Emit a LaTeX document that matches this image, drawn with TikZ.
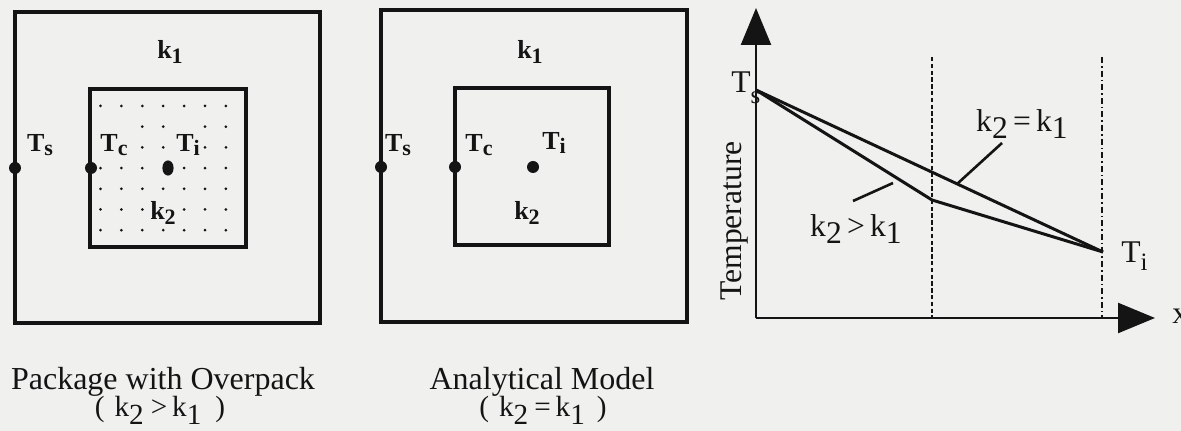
\documentclass[tikz,border=0pt]{standalone}
\usepackage{fontspec}
\setmainfont{Liberation Serif}
\usetikzlibrary{arrows.meta,shapes.geometric}
\definecolor{bgcol}{RGB}{240,240,238}
\definecolor{ink}{RGB}{20,20,20}
\newcommand{\lowsub}[1]{\raisebox{-0.42ex}{#1}}
\newcommand{\capsub}[1]{\raisebox{-0.55ex}{#1}}
\newcommand{\bsub}[1]{\raisebox{-0.4ex}{\fontsize{11pt}{11pt}\selectfont #1}}
\tikzset{
  box/.style={draw=ink, line width=1.6pt},
  bigdot/.style={circle, fill=ink, inner sep=0pt, minimum size=6pt},
  ovaldot/.style={ellipse, fill=ink, inner sep=0pt, minimum width=5.6pt, minimum height=7.6pt},
  blabel/.style={font=\fontsize{13pt}{13pt}\selectfont\bfseries, text=ink, inner sep=0pt},
  tlabel/.style={font=\fontsize{15.8pt}{17pt}\selectfont, text=ink, inner sep=0pt},
  caplabel/.style={font=\fontsize{16pt}{17pt}\selectfont, text=ink, inner sep=0pt},
  clabel/.style={font=\fontsize{14.6pt}{15pt}\selectfont, text=ink, inner sep=0pt},
  axis/.style={draw=ink, line width=1.25pt},
  curve/.style={draw=ink, line width=1.5pt},
  leader/.style={draw=ink, line width=1.3pt},
  dashA/.style={draw=ink, line width=1.1pt, dash pattern=on 2.2pt off 1.2pt},
  dashB/.style={draw=ink, line width=1.1pt, dash pattern=on 3pt off 1.5pt on 0.8pt off 1.5pt},
}
\begin{document}
\begin{tikzpicture}[x=0.5pt,y=-0.5pt]
\fill[bgcol] (0,0) rectangle (1181,431);
\useasboundingbox (0,0) rectangle (1181,431);

% ---------- Panel 1 ----------
\draw[box] (15,12) rectangle (320,323);
\draw[box] (90,89) rectangle (246,247);
\foreach \j in {0,...,6}{
  \foreach \i in {0,...,6}{
    \def\dskip{0}
    \ifnum\j=1 \ifnum\i=0 \def\dskip{1}\fi \ifnum\i=1 \def\dskip{1}\fi \ifnum\i=4 \def\dskip{1}\fi\fi
    \ifnum\j=2 \ifnum\i=0 \def\dskip{1}\fi \ifnum\i=1 \def\dskip{1}\fi \ifnum\i=4 \def\dskip{1}\fi\fi
    \ifnum\j=3 \ifnum\i=3 \def\dskip{1}\fi\fi
    \ifnum\j=5 \ifnum\i=3 \def\dskip{1}\fi\fi
    \if1\dskip\else
      \fill[ink] ({100.5+20.9*\i},{106+20.7*\j}) circle[radius=0.75pt];
    \fi
  }
}
\node[bigdot] (s1) at (15,168) {};
\node[bigdot] (c1) at (91,168) {};
\node[ovaldot] (i1) at (168,168) {};
\node[blabel] (k1a) at (170,52) {k\bsub{1}};
\node[blabel] (ts1) at (40,145) {T\bsub{s}};
\node[blabel] (tc1) at (114,145) {T\bsub{c}};
\node[blabel] (ti1) at (188,145) {T\bsub{i}};
\node[blabel] (k2a) at (163,213) {k\bsub{2}};
\node[caplabel, anchor=base] (cap1) at (163,390) {Package with Overpack};
\node[clabel, anchor=base] (cap1b) at (160,417) {(\hspace{5pt}k\capsub{2}\hspace{3.5pt}>\hspace{2.5pt}k\capsub{1}\hspace{7pt})};

% ---------- Panel 2 ----------
\draw[box] (381,10) rectangle (687,322);
\draw[box] (455,88) rectangle (609,245);
\node[bigdot] (s2) at (381,167) {};
\node[bigdot] (c2) at (455,167) {};
\node[bigdot] (i2) at (533,167) {};
\node[blabel] (k1b) at (530,52) {k\bsub{1}};
\node[blabel] (ts2) at (398,145) {T\bsub{s}};
\node[blabel] (tc2) at (479,145) {T\bsub{c}};
\node[blabel] (ti2) at (554,143) {T\bsub{i}};
\node[blabel] (k2b) at (527,213) {k\bsub{2}};
\node[caplabel, anchor=base] (cap2) at (542,390) {Analytical Model};
\node[clabel, anchor=base] (cap2b) at (543,417) {(\hspace{5pt}k\capsub{2}\hspace{3pt}=\hspace{2.5pt}k\capsub{1}\hspace{6pt})};

% ---------- Graph ----------
\coordinate (o) at (756,318);
\coordinate (ytip) at (756,8);
\coordinate (xtip) at (1155,318);
\draw[axis, -{Triangle[length=18.5pt,width=15pt]}] (o) -- (ytip);
\draw[axis, -{Triangle[length=18.5pt,width=15pt]}] (o) -- (xtip);
\coordinate (d1t) at (932,57);
\coordinate (d1b) at (932,318);
\coordinate (d2t) at (1102,57);
\coordinate (d2b) at (1102,318);
\draw[dashA] (d1t) -- (d1b);
\draw[dashB] (d2t) -- (d2b);
\coordinate (gs) at (756,90);
\coordinate (gk) at (932,200);
\coordinate (gi) at (1103,252);
\draw[curve] (gs) -- (gi);
\draw[curve] (gs) -- (gk) -- (gi);
\coordinate (l1a) at (1002,143);
\coordinate (l1b) at (957,184);
\coordinate (l2a) at (853,201);
\coordinate (l2b) at (893,183);
\draw[leader] (l1a) -- (l1b);
\draw[leader] (l2a) -- (l2b);
\node[tlabel, anchor=base west] (gts) at (731,93) {T\raisebox{-0.7ex}{\fontsize{12.5pt}{12pt}\selectfont s}};
\node[tlabel, anchor=base west] (gti) at (1121,263) {T\raisebox{-0.5ex}{\fontsize{12.5pt}{12pt}\selectfont i}};
\node[tlabel, anchor=base] (lab1) at (1022,132) {k\lowsub{2}\,=\,k\lowsub{1}};
\node[tlabel, anchor=base] (lab2) at (856,237) {k\lowsub{2}\,>\,k\lowsub{1}};
\node[tlabel, rotate=90] (ylab) at (735,221) {Temperature};
\node[tlabel, anchor=west] (xlab) at (1172,316) {x};
\end{tikzpicture}
\end{document}
